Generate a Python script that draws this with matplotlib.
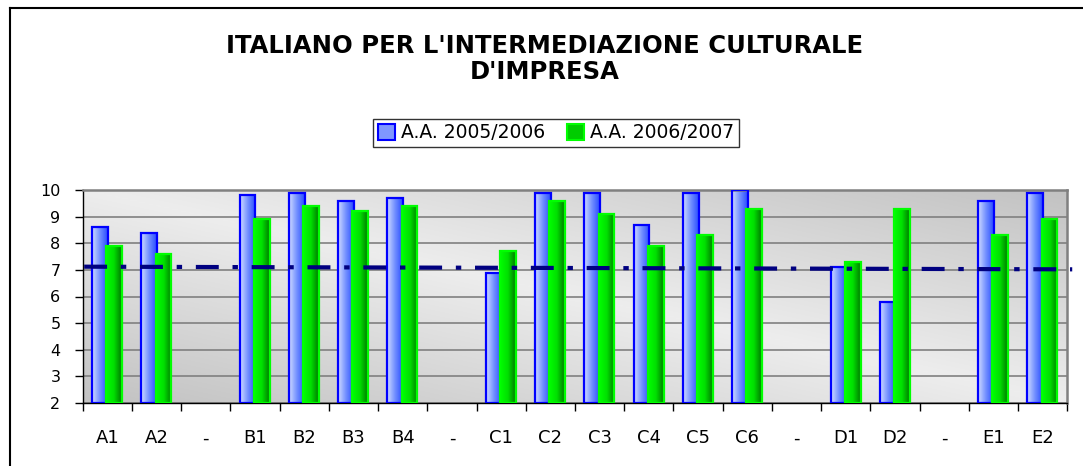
import matplotlib
matplotlib.use('Agg')
import matplotlib.pyplot as plt
import numpy as np
from matplotlib.colors import LinearSegmentedColormap
from matplotlib.patches import Rectangle, Patch
from matplotlib.lines import Line2D

# ==================== data ====================
categories = ['A1', 'A2', '-', 'B1', 'B2', 'B3', 'B4', '-',
              'C1', 'C2', 'C3', 'C4', 'C5', 'C6', '-', 'D1', 'D2', '-', 'E1', 'E2']
nan = np.nan
aa_2005 = [8.6, 8.4, nan, 9.8, 9.9, 9.6, 9.7, nan,
           6.9, 9.9, 9.9, 8.7, 9.9, 10.0, nan, 7.1, 5.8, nan, 9.6, 9.9]
aa_2006 = [7.9, 7.6, nan, 8.9, 9.4, 9.2, 9.4, nan,
           7.7, 9.6, 9.1, 7.9, 8.3, 9.3, nan, 7.3, 9.3, nan, 8.3, 8.9]
avg_line = [7.12, 7.02]   # dash-dot average line, left end / right end
series_labels = ['A.A. 2005/2006', 'A.A. 2006/2007']
title = "ITALIANO PER L'INTERMEDIAZIONE CULTURALE\nD'IMPRESA"

W, H = 1083, 466
fig = plt.figure(figsize=(W / 100, H / 100), dpi=100)
ax = fig.add_axes([82.7 / W, 1 - 403 / H, (1067.3 - 82.7) / W, (403 - 190) / H])

x = np.arange(len(categories))
ymin, ymax = 2, 10

# gradient background of plot area (light along the top-left/bottom-right diagonal)
u = np.linspace(0, 1, 400)
v = np.linspace(1, 0, 120)
uu, vv = np.meshgrid(u, v)
g = 0.93 - 0.17 * np.abs(uu + vv - 1)
bg = np.dstack([g, g, g])
ax.imshow(bg, extent=[0, 1, 0, 1], transform=ax.transAxes, aspect='auto',
          zorder=0, interpolation='bilinear')

ax.set_yticks(np.arange(ymin, ymax + 1))
ax.grid(axis='y', color='#808080', lw=1.2, zorder=1)
ax.set_axisbelow(True)

# bars with horizontal gradient
blue_cmap = LinearSegmentedColormap.from_list('b', ['#d0dbff', '#7290ff', '#2a4cff'])
green_cmap = LinearSegmentedColormap.from_list('g', ['#00ff00', '#00e000', '#007800'])
grad = np.linspace(0, 1, 64).reshape(1, -1)

bw = 0.32
for vals, off, cmap, ec, z in [(aa_2005, -0.15, blue_cmap, '#0000ff', 2),
                               (aa_2006, 0.14, green_cmap, '#00ff00', 4)]:
    for xi, val in zip(x, vals):
        if np.isnan(val):
            continue
        x0 = xi + off - bw / 2
        ax.imshow(grad, cmap=cmap, extent=[x0, x0 + bw, ymin, val], aspect='auto',
                  zorder=z, interpolation='bilinear')
        ax.add_patch(Rectangle((x0, ymin), bw, val - ymin, facecolor='none',
                               edgecolor=ec, lw=1.6, zorder=z + 1))

# average line
ax.plot([-0.47, len(categories) - 0.4], avg_line, color='#000080', lw=3.0,
        dashes=(5.5, 3.3, 1.3, 3.3), zorder=6, clip_on=False)

ax.set_xlim(-0.5, len(categories) - 0.5)
ax.set_ylim(ymin, ymax)

# axes / ticks
ax.set_xticks(x)
ax.set_xticklabels(categories, fontsize=13)
ax.set_xticks(np.arange(-0.5, len(categories)), minor=True)
ax.tick_params(axis='x', which='major', length=0, pad=19)
ax.tick_params(axis='x', which='minor', length=6, width=1, color='black')
ax.tick_params(axis='y', labelsize=11.5, length=6, width=1, pad=10)
for s in ['top', 'right']:
    ax.spines[s].set_color('#808080')
    ax.spines[s].set_linewidth(1.8)
for s in ['left', 'bottom']:
    ax.spines[s].set_color('black')
    ax.spines[s].set_linewidth(1)

# legend
handles = [Patch(facecolor='#7f97ff', edgecolor='#0000ff', lw=1.5),
           Patch(facecolor='#00cc00', edgecolor='#00ff00', lw=1.5)]
leg = fig.legend(handles, series_labels, loc='center', bbox_to_anchor=(556 / W, 1 - 133 / H),
                 ncol=2, fontsize=13.5, frameon=True, fancybox=False, handlelength=0.9,
                 handleheight=0.9, handletextpad=0.3, columnspacing=1.2,
                 borderpad=0.25, borderaxespad=0)
leg.get_frame().set_edgecolor('black')
leg.get_frame().set_linewidth(1)

# title
fig.text(545 / W, 1 - 59 / H, title, ha='center', va='center', fontsize=17.5,
         fontweight='bold', linespacing=1.15)

# outer frame (only top and left visible)
fig.add_artist(Line2D([10 / W, 1], [1 - 8 / H, 1 - 8 / H], color='black', lw=1.5,
                      transform=fig.transFigure))
fig.add_artist(Line2D([10 / W, 10 / W], [0, 1 - 8 / H], color='black', lw=1.5,
                      transform=fig.transFigure))

fig.savefig('out.png', dpi=100)
